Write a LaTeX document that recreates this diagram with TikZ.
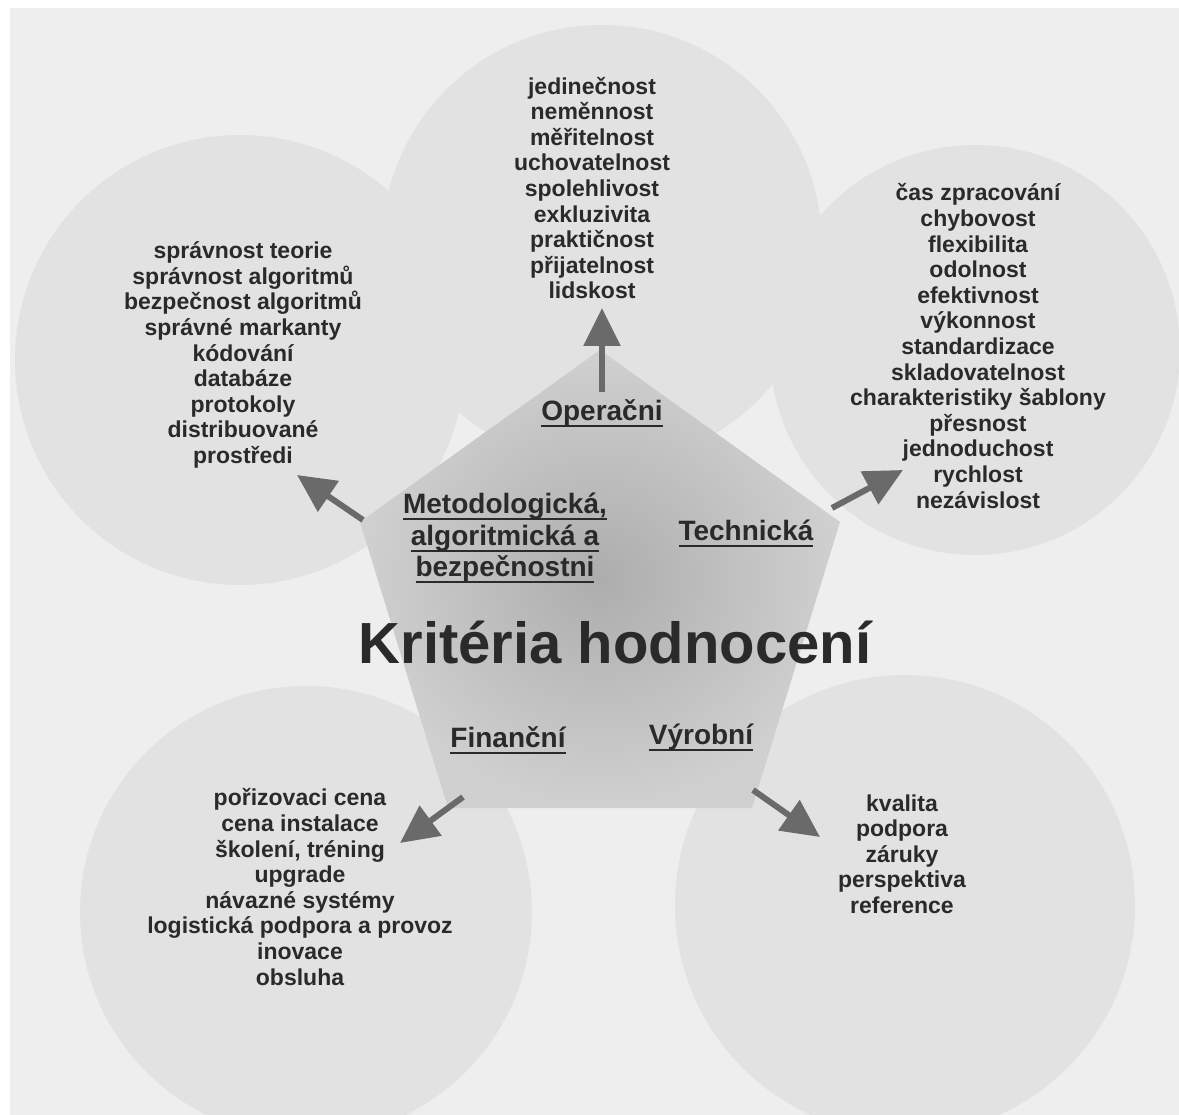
\documentclass[tikz,border=0pt]{standalone}
\usepackage{fontspec}
\setmainfont{Liberation Sans}
\usetikzlibrary{arrows.meta}
\definecolor{bg}{HTML}{EEEEEE}
\definecolor{circ}{HTML}{E2E2E2}
\definecolor{pentin}{HTML}{ADADAD}
\definecolor{pentout}{HTML}{D0D0D0}
\definecolor{ink}{HTML}{2A2A2A}
\definecolor{arr}{HTML}{6A6A6A}
\newcommand\ulbox[1]{\leavevmode\setbox0\hbox{#1}\rlap{\vrule width\wd0 height -4.5pt depth 6.5pt}\box0}
\begin{document}
\begin{tikzpicture}[x=1pt,y=-1pt,
  listtext/.style={font=\fontsize{23}{25.6}\selectfont\bfseries, text=ink, align=center, inner sep=0pt},
  cattext/.style={font=\fontsize{28}{31.5}\selectfont\bfseries, text=ink, align=center, inner sep=0pt},
  titletext/.style={font=\fontsize{58}{60}\selectfont\bfseries, text=ink, inner sep=0pt},
  conn/.style={line width=6pt, draw=arr, -{Triangle[width=36pt,length=38pt]}},
  bubble/.style={fill=circ},
]
\useasboundingbox (0,0) rectangle (1179,1115);
\fill[white] (0,0) rectangle (1179,1115);
\fill[bg] (10,8) rectangle (1179,1115);
% circles
\fill[bubble] (602,245) circle[radius=220];
\fill[bubble] (240,360) circle[radius=225];
\fill[bubble] (975,350) circle[radius=205];
\fill[bubble] (306,912) circle[radius=226];
\fill[bubble] (905,905) circle[radius=230];
% pentagon
\shade[inner color=pentin, outer color=pentout] (600,350) -- (840,522) -- (752,808) -- (448,808) -- (360,522) -- cycle;
% lists
\node[listtext] (oplist) at (592,188) {jedinečnost\\neměnnost\\měřitelnost\\uchovatelnost\\spolehlivost\\exkluzivita\\praktičnost\\přijatelnost\\lidskost};
\node[listtext] (metlist) at (243,355) {správnost teorie\\správnost algoritmů\\bezpečnost algoritmů\\správné markanty\\kódování\\databáze\\protokoly\\distribuované\\prostředi};
\node[listtext] (techlist) at (978,346) {čas zpracování\\chybovost\\flexibilita\\odolnost\\efektivnost\\výkonnost\\standardizace\\skladovatelnost\\charakteristiky šablony\\přesnost\\jednoduchost\\rychlost\\nezávislost};
\node[listtext] (finlist) at (300,887) {pořizovaci cena\\cena instalace\\školení, tréning\\upgrade\\návazné systémy\\logistická podpora a provoz\\inovace\\obsluha};
\node[listtext] (vyrlist) at (902,854) {kvalita\\podpora\\záruky\\perspektiva\\reference};
% category labels
\node[cattext] (op) at (602,413) {\ulbox{Operačni}};
\node[cattext] (met) at (505,538) {\ulbox{Metodologická,}\\\ulbox{algoritmická a}\\\ulbox{bezpečnostni}};
\node[cattext] (tech) at (746,533) {\ulbox{Technická}};
\node[cattext] (fin) at (508,740) {\ulbox{Finanční}};
\node[cattext] (vyr) at (701,737) {\ulbox{Výrobní}};
\node[titletext] (title) at (615,643) {Kritéria hodnocení};
% arrows
\coordinate (opTail) at (602,392);
\coordinate (opTip) at (602,308);
\coordinate (metTail) at (363,520);
\coordinate (metTip) at (297,475);
\coordinate (techTail) at (832,508);
\coordinate (techTip) at (903,470);
\coordinate (finTail) at (463,797);
\coordinate (finTip) at (400,843);
\coordinate (vyrTail) at (753,790);
\coordinate (vyrTip) at (820,837);
\draw[conn] (opTail) -- (opTip);
\draw[conn] (metTail) -- (metTip);
\draw[conn] (techTail) -- (techTip);
\draw[conn] (finTail) -- (finTip);
\draw[conn] (vyrTail) -- (vyrTip);
\end{tikzpicture}
\end{document}
